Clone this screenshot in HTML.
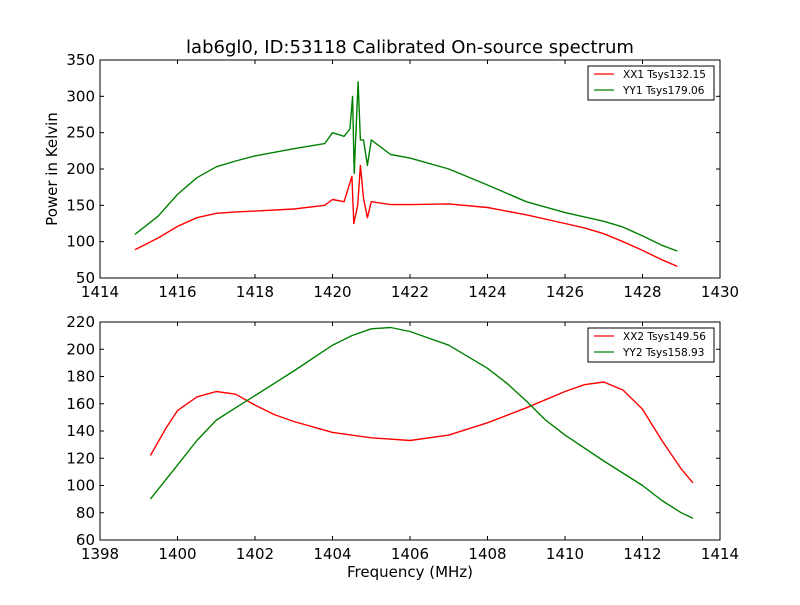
<!DOCTYPE html>
<html><head><meta charset="utf-8"><style>
body{margin:0;background:#fff;}
svg text{font-family:"DejaVu Sans","Liberation Sans",sans-serif;fill:#000;}
</style></head><body>
<svg id="chart" width="800" height="600" viewBox="0 0 800 600" xmlns="http://www.w3.org/2000/svg">
<rect width="800" height="600" fill="#fff"/>
<text x="410" y="53" font-size="18" text-anchor="middle">lab6gl0, ID:53118 Calibrated On-source spectrum</text>
<text x="57" y="169" font-size="15" text-anchor="middle" transform="rotate(-90 57 169)">Power in Kelvin</text>
<text x="410" y="577" font-size="15" text-anchor="middle">Frequency (MHz)</text>
<g id="top"></g><g id="bot"></g>
</svg>
<script>
const xx1F=[1414.9,1415.5,1416,1416.5,1417,1417.5,1418,1419,1419.8,1420,1420.3,1420.5,1420.55,1420.65,1420.72,1420.8,1420.9,1421,1421.5,1422,1423,1424,1425,1426,1426.5,1427,1427.5,1428,1428.5,1428.9];
const xx1V=[89,105,121,133,139,141,142,145,150,158,155,190,125,150,205,160,133,155,151,151,152,147,137,125,119,111,100,88,75,66];
const yy1F=[1414.9,1415.5,1416,1416.5,1417,1417.5,1418,1419,1419.8,1420,1420.3,1420.45,1420.52,1420.56,1420.66,1420.72,1420.8,1420.9,1421,1421.5,1422,1423,1424,1425,1426,1427,1427.5,1428,1428.5,1428.9];
const yy1V=[110,135,165,188,203,211,218,228,235,250,245,255,300,194,320,240,240,205,240,220,215,200,178,155,140,128,120,108,95,87];
const xx2F=[1399.3,1399.7,1400,1400.5,1401,1401.5,1402,1402.5,1403,1404,1405,1406,1407,1408,1409,1410,1410.5,1411,1411.5,1412,1412.5,1413,1413.3];
const xx2V=[122,142,155,165,169,167,159,152,147,139,135,133,137,146,157,169,174,176,170,156,133,112,102];
const yy2F=[1399.3,1400,1400.5,1401,1401.5,1402,1403,1404,1404.5,1405,1405.5,1406,1406.5,1407,1408,1408.5,1409,1409.5,1410,1411,1412,1412.5,1413,1413.3];
const yy2V=[90,115,133,148,157,166,184,203,210,215,216,213,208,203,186,175,162,148,137,118,100,89,80,76];
const topXTicks=[1414,1416,1418,1420,1422,1424,1426,1428,1430];
const topYTicks=[50,100,150,200,250,300,350];
const botXTicks=[1398,1400,1402,1404,1406,1408,1410,1412,1414];
const botYTicks=[60,80,100,120,140,160,180,200,220];
const NS="http://www.w3.org/2000/svg";
function mk(t,a,p){const e=document.createElementNS(NS,t);for(const k in a)e.setAttribute(k,a[k]);p.appendChild(e);return e;}
function panel(g,top,xt,yt,series,legend,nm){
  const L=100,R=720,T=top,B=top+218;
  const sx=v=>L+(v-xt[0])/(xt[xt.length-1]-xt[0])*(R-L);
  const sy=v=>B-(v-yt[0])/(yt[yt.length-1]-yt[0])*(B-T);
  xt.forEach(v=>{const x=sx(v);
    mk('line',{x1:x,x2:x,y1:B,y2:B-4,stroke:'#000'},g);mk('line',{x1:x,x2:x,y1:T,y2:T+4,stroke:'#000'},g);
    const t=mk('text',{x:x,y:B+19,'font-size':15,'text-anchor':'middle'},g);t.textContent=v;
    
    });
  yt.forEach(v=>{const y=sy(v);
    mk('line',{x1:L,x2:L+4,y1:y,y2:y,stroke:'#000'},g);mk('line',{x1:R,x2:R-4,y1:y,y2:y,stroke:'#000'},g);
    const t=mk('text',{x:L-5,y:y+5,'font-size':15,'text-anchor':'end'},g);t.textContent=v;
    
    });
  series.forEach(s=>{
    const p=mk('polyline',{points:s.f.map((f,i)=>sx(f).toFixed(1)+','+sy(s.v[i]).toFixed(1)).join(' '),fill:'none',stroke:s.c,'stroke-width':1.4,'stroke-linejoin':'round'},g);
    
    });
  const fr=mk('rect',{x:L,y:T,width:R-L,height:B-T,fill:'none',stroke:'#000'},g);
  
  
  const lg=mk('g',{},g);
  
  
  mk('rect',{x:588,y:T+6,width:126,height:34,fill:'#fff',stroke:'#000'},lg);
  legend.forEach((l,i)=>{const y=T+14+i*16;
    mk('line',{x1:594,x2:614,y1:y,y2:y,stroke:l.c,'stroke-width':1.3},lg);
    const t=mk('text',{x:623,y:y+4,'font-size':10.5},lg);t.textContent=l.t;
    
    });
}
panel(document.getElementById('top'),60,topXTicks,topYTicks,
 [{f:xx1F,v:xx1V,c:'#ff0000',n:'xx1-line'},{f:yy1F,v:yy1V,c:'#008000',n:'yy1-line'}],
 [{c:'#ff0000',t:'XX1 Tsys132.15'},{c:'#008000',t:'YY1 Tsys179.06'}],'top-panel');
panel(document.getElementById('bot'),322,botXTicks,botYTicks,
 [{f:xx2F,v:xx2V,c:'#ff0000',n:'xx2-line'},{f:yy2F,v:yy2V,c:'#008000',n:'yy2-line'}],
 [{c:'#ff0000',t:'XX2 Tsys149.56'},{c:'#008000',t:'YY2 Tsys158.93'}],'bottom-panel');
</script>
</body></html>
